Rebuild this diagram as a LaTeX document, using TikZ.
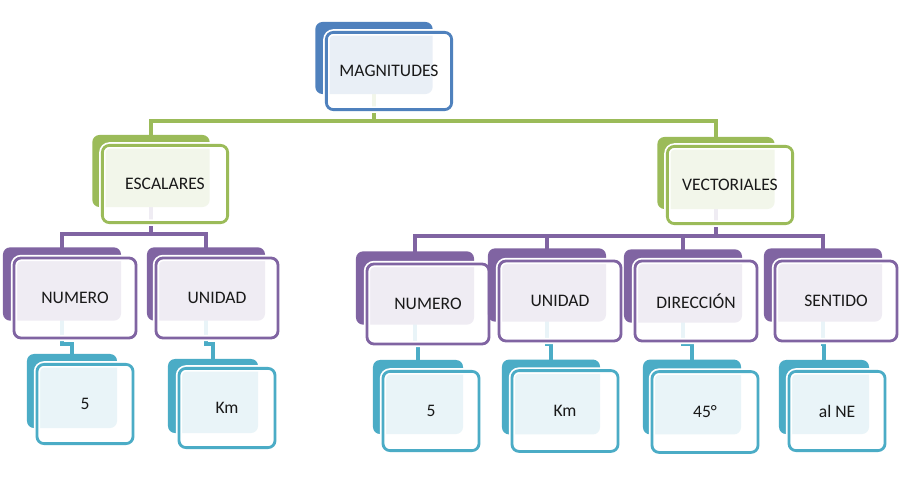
\documentclass[tikz,border=0pt]{standalone}
\usepackage{fontspec}
\setmainfont{Carlito}
\definecolor{magblue}{HTML}{4F81BD}
\definecolor{leafgreen}{HTML}{9BBB59}
\definecolor{grape}{HTML}{8064A2}
\definecolor{aqua}{HTML}{4BACC6}
\pgfdeclarelayer{bg}
\pgfsetlayers{bg,main}

\begin{document}
\begin{tikzpicture}[x=0.025cm, y=-0.025cm,
    back/.style={rounded corners=5pt, fill=#1, draw=none, inner sep=0pt},
    front/.style={rounded corners=5pt, draw=#1, line width=2pt, fill=white, fill opacity=.88,
      text opacity=1, inner sep=0pt, preaction={draw=white, line width=4.5pt},
      font=\fontsize{12.5}{14}\selectfont, text=black!90},
    bigback/.style={minimum width=2.93cm, minimum height=1.8cm},
    bigfront/.style={minimum width=3.13cm, minimum height=1.93cm},
    midback/.style={minimum width=2.95cm, minimum height=1.83cm},
    midfront/.style={minimum width=3.05cm, minimum height=2cm},
    smallback/.style={minimum width=2.25cm, minimum height=1.85cm},
    smallfront/.style={minimum width=2.4cm, minimum height=1.98cm},
    wideback/.style={minimum width=2.45cm, minimum height=1.87cm},
    widefront/.style={minimum width=2.65cm, minimum height=2.02cm},
    link/.style={draw=#1, line width=2.2pt}]

\useasboundingbox (0,0) rectangle (900,480);

% magnitudes
\node[back=magblue, bigback] (mag) at (374,58) {};
\node[front=magblue, bigfront] (mag-t) at (389,71) {MAGNITUDES};

% escalares / vectoriales
\node[back=leafgreen, bigback] (esc) at (151,171) {};
\node[front=leafgreen, bigfront] (esc-t) at (165,184) {ESCALARES};
\node[back=leafgreen, bigback] (vec) at (716,173) {};
\node[front=leafgreen, bigfront] (vec-t) at (730,185) {VECTORIALES};

% partes
\node[back=grape, midback] (numa) at (62,284) {};
\node[front=grape, midfront] (numa-t) at (75,298) {NUMERO};
\node[back=grape, midback] (unia) at (206,284) {};
\node[front=grape, midfront] (unia-t) at (217,298) {UNIDAD};
\node[back=grape, midback] (numb) at (415,288) {};
\node[front=grape, midfront] (numb-t) at (428,304) {NUMERO};
\node[back=grape, midback] (unib) at (547,285) {};
\node[front=grape, midfront] (unib-t) at (560,301) {UNIDAD};
\node[back=grape, midback] (dir) at (683,286) {};
\node[front=grape, midfront] (dir-t) at (696,301) {DIRECCIÓN};
\node[back=grape, midback] (sen) at (823,285) {};
\node[front=grape, midfront] (sen-t) at (836,301) {SENTIDO};

% ejemplos
\node[back=aqua, smallback] (cinco) at (72,391) {};
\node[front=aqua, smallfront] (cinco-t) at (85,404) {5};
\node[back=aqua, smallback] (kma) at (213,396) {};
\node[front=aqua, smallfront] (kma-t) at (227,408) {Km};
\node[back=aqua, smallback] (cincob) at (418,397) {};
\node[front=aqua, smallfront] (cincob-t) at (431,411) {5};
\node[back=aqua, wideback] (kmb) at (551,397) {};
\node[front=aqua, widefront] (kmb-t) at (565,411) {Km};
\node[back=aqua, wideback] (grados) at (692,397) {};
\node[front=aqua, widefront] (grados-t) at (705,412) {45°};
\node[back=aqua, smallback] (ne) at (824,397) {};
\node[front=aqua, smallfront] (ne-t) at (837,411) {al NE};

\begin{pgfonlayer}{bg}
\fill[white] (0,0) rectangle (900,480);
\foreach \b in {esc,vec}
  \draw[link=leafgreen] (mag.center) -- (mag.center |- 0,121) -| (\b.center);
\foreach \b in {numa,unia}
  \draw[link=grape] (esc.center) -- (esc.center |- 0,234) -| (\b.center);
\foreach \b in {numb,unib,dir,sen}
  \draw[link=grape] (vec.center) -- (vec.center |- 0,236) -| (\b.center);
\foreach \a/\b in {numa/cinco, unia/kma, numb/cincob, unib/kmb, dir/grados, sen/ne}
  \draw[link=aqua] (\a.center) -- (\a.center |- 0,344) -| (\b.center);
\end{pgfonlayer}
\end{tikzpicture}
\end{document}
